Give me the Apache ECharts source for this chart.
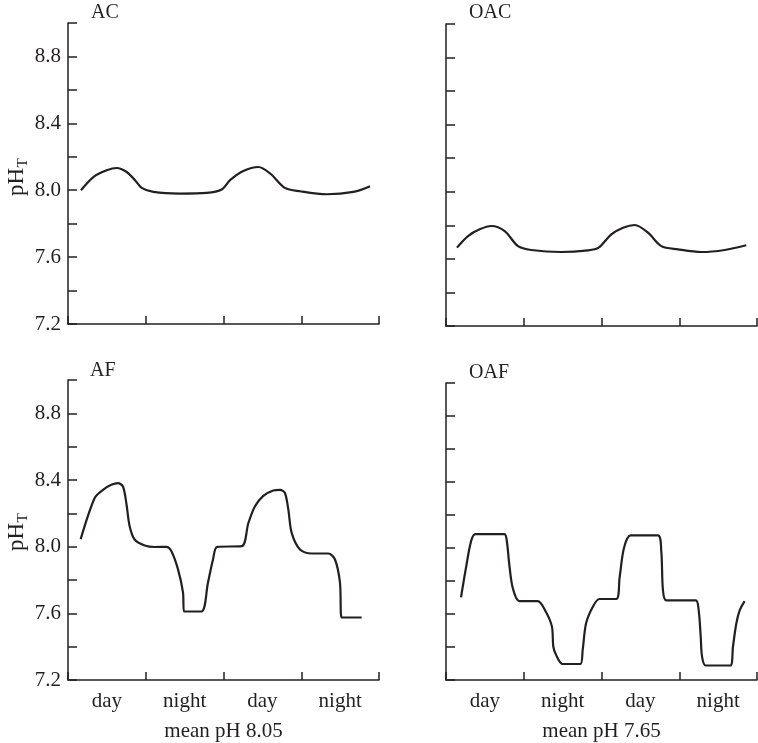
<!DOCTYPE html>
<html>
<head>
<meta charset="utf-8">
<script src="https://cdn.jsdelivr.net/npm/echarts@6/dist/echarts.min.js"></script>
<style>
html,body{margin:0;padding:0;background:#fff;}
#chart{width:758px;height:743px;}
</style>
</head>
<body>
<div id="chart"></div>
<script>
// ---- data (x in day/night periods, 0..4; y = pH_T) ----
const panelTitles = ['AC', 'OAC', 'AF', 'OAF'];
const xLabels = ['day', 'night', 'day', 'night'];
const xNames = ['mean pH 8.05', 'mean pH 7.65'];
const yLabelValues = [7.2, 7.6, 8.0, 8.4, 8.8];
const yTickValues = [7.2, 7.4, 7.6, 7.8, 8.0, 8.2, 8.4, 8.6, 8.8, 9.0];

const acData = [
  [0.167, 8.000], [0.326, 8.079], [0.498, 8.119], [0.626, 8.133], [0.755, 8.109],
  [0.862, 8.060], [0.948, 8.014], [1.097, 7.990], [1.440, 7.980], [1.784, 7.984],
  [1.977, 8.004], [2.084, 8.060], [2.255, 8.115], [2.448, 8.139], [2.600, 8.100],
  [2.790, 8.014], [2.984, 7.994], [3.327, 7.976], [3.670, 7.990], [3.884, 8.024]
];
const oacData = [
  [0.141, 7.667], [0.283, 7.736], [0.433, 7.776], [0.583, 7.796], [0.755, 7.766],
  [0.926, 7.676], [1.097, 7.653], [1.483, 7.641], [1.826, 7.651], [1.963, 7.667],
  [2.126, 7.746], [2.277, 7.786], [2.427, 7.802], [2.598, 7.756], [2.770, 7.676],
  [2.984, 7.657], [3.284, 7.641], [3.585, 7.653], [3.862, 7.681]
];
const afData = [
  [0.163, 8.045], [0.343, 8.292], [0.450, 8.341], [0.557, 8.371], [0.643, 8.381],
  [0.707, 8.361], [0.750, 8.262], [0.793, 8.122], [0.857, 8.043], [0.986, 8.007],
  [1.115, 7.998], [1.265, 7.999], [1.330, 7.973], [1.415, 7.864], [1.479, 7.725],
  [1.492, 7.611], [1.715, 7.611], [1.800, 7.784], [1.865, 7.923], [1.920, 7.999],
  [2.234, 8.003], [2.320, 8.142], [2.405, 8.242], [2.512, 8.305], [2.640, 8.337],
  [2.727, 8.341], [2.790, 8.322], [2.834, 8.222], [2.877, 8.083], [2.984, 7.983],
  [3.134, 7.959], [3.348, 7.959], [3.434, 7.923], [3.498, 7.784], [3.520, 7.575],
  [3.777, 7.575]
];
const oafData = [
  [0.193, 7.701], [0.257, 7.880], [0.322, 8.040], [0.377, 8.084], [0.750, 8.084],
  [0.780, 8.050], [0.814, 7.900], [0.857, 7.761], [0.943, 7.678], [1.179, 7.678],
  [1.286, 7.612], [1.363, 7.522], [1.380, 7.403], [1.415, 7.353], [1.500, 7.297],
  [1.727, 7.297], [1.758, 7.383], [1.801, 7.542], [1.887, 7.642], [1.972, 7.691],
  [2.190, 7.691], [2.233, 7.821], [2.289, 8.000], [2.375, 8.076], [2.726, 8.076],
  [2.769, 7.980], [2.791, 7.741], [2.834, 7.682], [3.212, 7.682], [3.250, 7.622],
  [3.276, 7.463], [3.293, 7.343], [3.340, 7.288], [3.657, 7.288], [3.691, 7.403],
  [3.734, 7.542], [3.777, 7.622], [3.841, 7.678]
];
const panelData = [acData, oacData, afData, oafData];

// ---- layout / style ----
const ink = '#231f20';
const serif = '"Liberation Serif", "DejaVu Serif", serif';
const grids = [
  {left: 68, top: 23, width: 311, height: 301},
  {left: 446, top: 24, width: 311, height: 302},
  {left: 68, top: 380, width: 311, height: 301},
  {left: 446, top: 383, width: 311, height: 301}
];
const titlePos = [[91, 3], [469, 3], [90, 361], [469, 363]];

const chart = echarts.init(document.getElementById('chart'), null, {renderer: 'canvas'});

const xAxes = grids.map((g, i) => ({
  type: 'value', gridIndex: i, min: 0, max: 4,
  axisLine: {show: true, onZero: false, lineStyle: {color: ink, width: 1.5}},
  axisTick: {show: true, inside: true, length: 8, customValues: [0, 1, 2, 3, 4], lineStyle: {color: ink, width: 1.5}},
  axisLabel: {
    show: i >= 2, customValues: [0.5, 1.5, 2.5, 3.5], margin: 11,
    formatter: v => xLabels[Math.floor(v)],
    color: ink, fontFamily: serif, fontSize: 21
  },
  splitLine: {show: false},
  name: i >= 2 ? xNames[i - 2] : '',
  nameLocation: 'middle', nameGap: 41,
  nameTextStyle: {color: ink, fontFamily: serif, fontSize: 21}
}));

const yAxes = grids.map((g, i) => ({
  type: 'value', gridIndex: i, min: 7.2, max: 9.0,
  axisLine: {show: true, lineStyle: {color: ink, width: 1.5}},
  axisTick: {show: true, inside: true, length: 9, customValues: yTickValues, lineStyle: {color: ink, width: 1.5}},
  axisLabel: {
    show: i % 2 === 0, customValues: yLabelValues, margin: 7,
    formatter: v => v.toFixed(1),
    color: ink, fontFamily: serif, fontSize: 21
  },
  splitLine: {show: false}
}));

const series = panelData.map((d, i) => ({
  type: 'line', xAxisIndex: i, yAxisIndex: i, data: d,
  smooth: 0.3, showSymbol: false, symbol: 'none',
  lineStyle: {color: ink, width: 2.2}
}));

const titles = panelTitles.map((t, i) => ({
  text: t, left: titlePos[i][0], top: titlePos[i][1], padding: 0,
  textStyle: {color: ink, fontFamily: serif, fontSize: 20, fontWeight: 'normal'}
}));

function yName(cy) {
  return [
    {type: 'text', x: 17, y: cy, rotation: Math.PI / 2,
     style: {text: 'pH', fill: ink, font: '23px ' + serif, align: 'center', verticalAlign: 'middle'}},
    {type: 'text', x: 23, y: cy - 19, rotation: Math.PI / 2,
     style: {text: 'T', fill: ink, font: '15px ' + serif, align: 'center', verticalAlign: 'middle'}}
  ];
}

chart.setOption({
  animation: false,
  backgroundColor: '#fff',
  title: titles,
  grid: grids,
  xAxis: xAxes,
  yAxis: yAxes,
  series: series,
  graphic: [...yName(182), ...yName(537)]
});
</script>
</body>
</html>
